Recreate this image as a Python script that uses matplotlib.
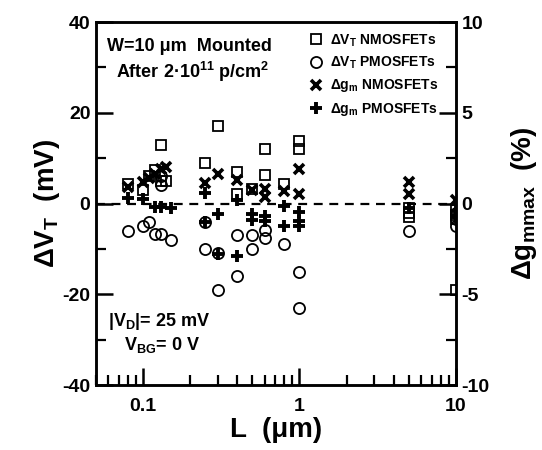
import numpy as np
import matplotlib
matplotlib.use("Agg")
import matplotlib.pyplot as plt
from matplotlib.ticker import FixedLocator, NullFormatter, LogLocator

plt.rcParams["font.family"] = ["Liberation Sans", "DejaVu Sans"]
plt.rcParams["font.weight"] = "bold"
plt.rcParams["axes.unicode_minus"] = False

# ── data ──
# dVT NMOSFETs (mV), squares
L_vn = [0.08, 0.1, 0.11, 0.12, 0.13, 0.13, 0.14, 0.25, 0.3, 0.4, 0.4, 0.5,
        0.6, 0.6, 0.8, 1.0, 1.0, 5, 5, 5, 10, 10, 10, 10]
vt_n = [4.3, 3.0, 6.0, 7.3, 13.0, 5.0, 5.0, 9.0, 17.0, 7.0, 2.2, 3.2,
        12.0, 6.3, 4.3, 13.8, 12.1, -1.0, -2.0, -3.0, -19.0, -1.5, -2.5, -3.5]

# dVT PMOSFETs (mV), circles
L_vp = [0.08, 0.1, 0.11, 0.12, 0.13, 0.13, 0.13, 0.15, 0.25, 0.25, 0.3, 0.3,
        0.4, 0.4, 0.5, 0.5, 0.6, 0.6, 0.8, 1.0, 1.0, 5, 10, 10, 10]
vt_p = [-6.0, -5.0, -4.0, -6.8, -6.8, 4.0, 6.0, -8.0, -4.0, -10.0, -11.0, -19.0,
        -7.0, -16.0, -7.0, -10.0, -5.8, -7.6, -9.0, -15.0, -23.0, -6.0, -2.0, -3.5, -5.0]

# dgm NMOSFETs (%), crosses
L_gn = [0.08, 0.1, 0.11, 0.12, 0.13, 0.14, 0.25, 0.3, 0.4, 0.5, 0.6, 0.6,
        0.8, 1.0, 1.0, 5, 5, 10]
gm_n = [0.9, 1.2, 1.4, 1.6, 1.9, 2.0, 1.15, 1.65, 1.3, 0.75, 0.8, 0.35,
        0.7, 1.9, 0.5, 1.2, 0.55, 0.2]

# dgm PMOSFETs (%), pluses
L_gp = [0.08, 0.1, 0.12, 0.13, 0.15, 0.25, 0.25, 0.3, 0.3, 0.4, 0.4, 0.5, 0.5,
        0.6, 0.6, 0.8, 0.8, 1.0, 1.0, 1.0, 5, 10, 10]
gm_p = [0.28, 0.25, -0.18, -0.18, -0.22, 0.6, -1.0, -0.6, -2.8, 0.22, -2.9, -0.6, -0.9,
        -0.7, -0.95, -0.15, -1.25, -0.45, -0.95, -1.25, -0.25, -0.4, -0.75]

# ── figure ──
fig = plt.figure(figsize=(5.42, 4.5), dpi=100)
ax = fig.add_axes([0.177, 0.1444, 0.664, 0.8066])
ax2 = ax.twinx()

ax.set_xscale("log")
ax.set_xlim(0.05, 10)
ax.set_ylim(-40, 40)
ax2.set_ylim(-10, 10)

ms = 7.5
h1, = ax.plot(L_vn, vt_n, ls="none", marker="s", ms=ms, mfc="none", mec="black", mew=1.3,
              label=r"ΔV$_\mathregular{T}$ NMOSFETs")
h2, = ax.plot(L_vp, vt_p, ls="none", marker="o", ms=ms + 0.5, mfc="none", mec="black", mew=1.3,
              label=r"ΔV$_\mathregular{T}$ PMOSFETs")
h3, = ax2.plot(L_gn, gm_n, ls="none", marker="x", ms=7, mec="black", mew=2.6,
               label=r"Δg$_\mathregular{m}$ NMOSFETs")
h4, = ax2.plot(L_gp, gm_p, ls="none", marker="+", ms=8.5, mec="black", mew=2.8,
               label=r"Δg$_\mathregular{m}$ PMOSFETs")

ax.axhline(0, color="black", lw=1.6, ls=(0, (4, 3)), zorder=0)

# ticks
for a in (ax, ax2):
    for s in a.spines.values():
        s.set_linewidth(1.8)
ax.yaxis.set_major_locator(FixedLocator([-40, -20, 0, 20, 40]))
ax.yaxis.set_minor_locator(FixedLocator([-30, -10, 10, 30]))
ax2.yaxis.set_major_locator(FixedLocator([-10, -5, 0, 5, 10]))
ax2.yaxis.set_minor_locator(FixedLocator([-7.5, -2.5, 2.5, 7.5]))
ax.xaxis.set_major_locator(FixedLocator([0.1, 1, 10]))
ax.xaxis.set_minor_locator(LogLocator(base=10, subs=np.arange(2, 10)))
ax.xaxis.set_minor_formatter(NullFormatter())
ax.set_xticklabels(["0.1", "1", "10"])

ax.tick_params(which="major", direction="in", length=12, width=1.8, labelsize=14,
               top=False, right=False, pad=4)
ax.tick_params(axis="x", which="major", pad=9)
ax.tick_params(which="minor", direction="in", length=7, width=1.6, top=False, right=False)
ax2.tick_params(which="major", direction="in", length=12, width=1.8, labelsize=14, pad=4)
ax2.tick_params(which="minor", direction="in", length=7, width=1.6)
for lab in ax.get_xticklabels() + ax.get_yticklabels() + ax2.get_yticklabels():
    lab.set_fontweight("bold")

ax.set_xlabel(r"L  (μm)", fontsize=20, fontweight="bold", labelpad=2)
ax.set_ylabel(r"ΔV$_\mathregular{T}$  (mV)", fontsize=20, fontweight="bold", labelpad=0)
ax2.set_ylabel(r"Δg$_\mathregular{mmax}$  (%)", fontsize=20, fontweight="bold", labelpad=14)

# annotations
ax.text(0.03, 0.955, "W=10 μm  Mounted", transform=ax.transAxes, fontsize=13,
        fontweight="bold", va="top", ha="left")
ax.text(0.055, 0.895, r"After 2·10$^\mathregular{11}$ p/cm$^\mathregular{2}$",
        transform=ax.transAxes, fontsize=13, fontweight="bold", va="top", ha="left")
ax.text(0.033, 0.175, r"|V$_\mathregular{D}$|= 25 mV", transform=ax.transAxes, fontsize=13,
        fontweight="bold", va="center", ha="left")
ax.text(0.078, 0.11, r"V$_\mathregular{BG}$= 0 V", transform=ax.transAxes, fontsize=13,
        fontweight="bold", va="center", ha="left")

leg = ax2.legend(handles=[h1, h2, h3, h4], loc="upper right", bbox_to_anchor=(0.975, 0.995),
                 frameon=False, handlelength=1.0, handletextpad=0.5,
                 labelspacing=0.45, borderaxespad=0.2, prop={"weight": "bold", "size": 10})

fig.savefig("out.png", dpi=100)
